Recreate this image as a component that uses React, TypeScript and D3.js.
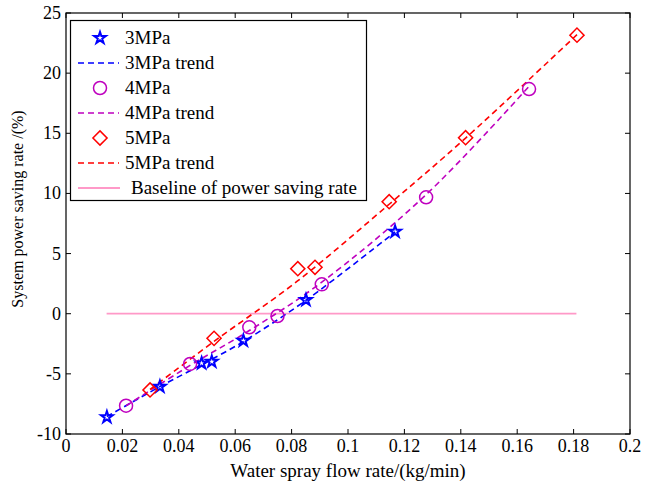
import * as d3 from "d3";

const WIDTH = 651;
const HEIGHT = 483;
const MARGIN = { top: 13, right: 21, bottom: 49, left: 66 };

const X_TICKS = [0, 0.02, 0.04, 0.06, 0.08, 0.1, 0.12, 0.14, 0.16, 0.18, 0.2];
const Y_TICKS = [-10, -5, 0, 5, 10, 15, 20, 25];

// measured points
const flow3 = [0.0145, 0.0333, 0.0481, 0.0517, 0.0629, 0.0851, 0.1167];
const rate3 = [-8.6, -6.06, -4.12, -3.99, -2.24, 1.14, 6.82];
const flow4 = [0.0213, 0.044, 0.065, 0.075, 0.0907, 0.1277, 0.1642];
const rate4 = [-7.65, -4.18, -1.13, -0.19, 2.44, 9.68, 18.68];
const flow5 = [0.0298, 0.0525, 0.0822, 0.0883, 0.1146, 0.1417, 0.1812];
const rate5 = [-6.34, -2.05, 3.74, 3.86, 9.31, 14.63, 23.16];

// trend lines
const trendFlow3 = [0.0145, 0.033, 0.05, 0.063, 0.085, 0.1167];
const trendRate3 = [-8.55, -6.1, -4.0, -2.3, 1.1, 6.8];
const trendFlow4 = [0.0213, 0.044, 0.065, 0.09, 0.1277, 0.1642];
const trendRate4 = [-7.65, -4.3, -1.4, 2.5, 9.9, 18.9];
const trendFlow5 = [0.0298, 0.0525, 0.082, 0.1146, 0.1417, 0.1812];
const trendRate5 = [-6.3, -2.3, 2.7, 9.1, 14.6, 23.2];

const baselineFlow = [0.0144, 0.181];
const baselineRate = [0, 0];

const BLUE = "#0000ff";
const PURPLE = "#bf00bf";
const RED = "#ff0000";
const PINK = "#ff99c8";
const FONT = "'Liberation Serif', 'Times New Roman', serif";

const zip = (xs: number[], ys: number[]) => xs.map((x, i) => ({ x, y: ys[i] }));

export default function App() {
  const x = d3.scaleLinear().domain([0, 0.2]).range([MARGIN.left, WIDTH - MARGIN.right]);
  const y = d3.scaleLinear().domain([-10, 25]).range([HEIGHT - MARGIN.bottom, MARGIN.top]);

  const line = d3
    .line<{ x: number; y: number }>()
    .x((d) => x(d.x))
    .y((d) => y(d.y))
    .curve(d3.curveCatmullRom.alpha(0.5));

  const star = d3.symbol(d3.symbolStar, 42)() || "";
  const diamond = d3.symbol(d3.symbolSquare, 100)() || "";

  const starMark = (cx: number, cy: number, key: string) => (
    <path key={key} d={star} transform={`translate(${cx},${cy})`} fill="none" stroke={BLUE} strokeWidth={2} strokeLinejoin="miter" />
  );
  const circleMark = (cx: number, cy: number, key: string) => (
    <circle key={key} cx={cx} cy={cy} r={6.5} fill="none" stroke={PURPLE} strokeWidth={1.5} />
  );
  const diamondMark = (cx: number, cy: number, key: string) => (
    <path key={key} d={diamond} transform={`translate(${cx},${cy}) rotate(45)`} fill="none" stroke={RED} strokeWidth={1.5} />
  );

  const x0 = MARGIN.left;
  const x1 = WIDTH - MARGIN.right;
  const y0 = HEIGHT - MARGIN.bottom;
  const y1 = MARGIN.top;
  const dash = "6 4";

  const legend = [
    { label: "3MPa", kind: "star" },
    { label: "3MPa trend", kind: "line", color: BLUE },
    { label: "4MPa", kind: "circle" },
    { label: "4MPa trend", kind: "line", color: PURPLE },
    { label: "5MPa", kind: "diamond" },
    { label: "5MPa trend", kind: "line", color: RED },
    { label: "Baseline of power saving rate", kind: "base" },
  ];

  return (
    <svg width={WIDTH} height={HEIGHT} style={{ position: "absolute", left: 0, top: 0, background: "#fff" }} fontFamily={FONT}>
      <rect x={0} y={0} width={WIDTH} height={HEIGHT} fill="#fff" />

      {/* ticks */}
      {X_TICKS.map((t) => (
        <g key={`x${t}`}>
          <line x1={x(t)} x2={x(t)} y1={y0} y2={y0 - 5} stroke="#000" />
          <line x1={x(t)} x2={x(t)} y1={y1} y2={y1 + 5} stroke="#000" />
          <text x={x(t)} y={y0 + 18} textAnchor="middle" fontSize={18}>
            {t}
          </text>
        </g>
      ))}
      {Y_TICKS.map((t) => (
        <g key={`y${t}`}>
          <line x1={x0} x2={x0 + 5} y1={y(t)} y2={y(t)} stroke="#000" />
          <line x1={x1} x2={x1 - 5} y1={y(t)} y2={y(t)} stroke="#000" />
          <text x={x0 - 5} y={y(t) + 6} textAnchor="end" fontSize={18}>
            {t}
          </text>
        </g>
      ))}

      <text x={(x0 + x1) / 2} y={477} textAnchor="middle" fontSize={19}>
        Water spray flow rate/(kg/min)
      </text>
      <text transform={`translate(23 209) rotate(-90)`} textAnchor="middle" fontSize={16}>
        System power saving rate /(%)
      </text>

      {/* baseline */}
      <path d={line(zip(baselineFlow, baselineRate)) || ""} fill="none" stroke={PINK} strokeWidth={1.8} />

      {/* trends */}
      <path d={line(zip(trendFlow3, trendRate3)) || ""} fill="none" stroke={BLUE} strokeWidth={1.6} strokeDasharray={dash} />
      <path d={line(zip(trendFlow4, trendRate4)) || ""} fill="none" stroke={PURPLE} strokeWidth={1.6} strokeDasharray={dash} />
      <path d={line(zip(trendFlow5, trendRate5)) || ""} fill="none" stroke={RED} strokeWidth={1.6} strokeDasharray={dash} />

      {/* markers */}
      {flow3.map((f, i) => starMark(x(f), y(rate3[i]), `s${i}`))}
      {flow4.map((f, i) => circleMark(x(f), y(rate4[i]), `c${i}`))}
      {flow5.map((f, i) => diamondMark(x(f), y(rate5[i]), `d${i}`))}

      {/* frame */}
      <rect x={x0} y={y1} width={x1 - x0} height={y0 - y1} fill="none" stroke="#000" strokeWidth={1.2} />

      {/* legend */}
      <rect x={70.5} y={20.5} width={296} height={180} fill="#fff" stroke="#000" strokeWidth={1.2} />
      {legend.map((item, i) => {
        const cy = 38 + i * 25;
        return (
          <g key={item.label}>
            {item.kind === "star" && starMark(100, cy, "ls")}
            {item.kind === "circle" && circleMark(100, cy, "lc")}
            {item.kind === "diamond" && diamondMark(100, cy, "ld")}
            {item.kind === "line" && (
              <line x1={78} x2={119} y1={cy} y2={cy} stroke={item.color} strokeWidth={1.6} strokeDasharray={dash} />
            )}
            {item.kind === "base" && <line x1={78} x2={120} y1={cy} y2={cy} stroke={PINK} strokeWidth={1.8} />}
            <text x={item.kind === "base" ? 131 : 125} y={cy + 6} fontSize={19}>
              {item.label}
            </text>
          </g>
        );
      })}
    </svg>
  );
}
